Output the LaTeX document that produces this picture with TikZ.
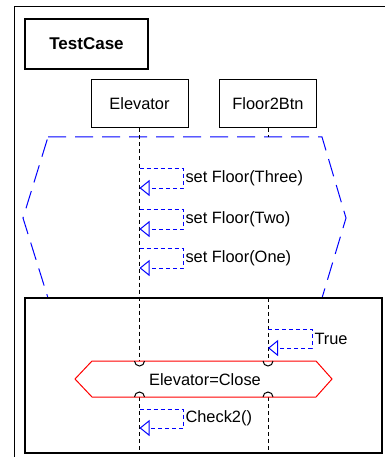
\documentclass[tikz,border=0pt]{standalone}
\usepackage{fontspec}
\setmainfont{Liberation Sans}
\usetikzlibrary{arrows.meta}

\begin{document}
\begin{tikzpicture}[x=1pt,y=-1pt,line width=1pt,
        every node/.style={font=\fontsize{16.4}{19}\selectfont},
        obj/.style={draw,minimum width=97pt,minimum height=48pt},
        life/.style={black,dash pattern=on 4pt off 3pt},
        msg/.style={blue,dash pattern=on 4pt off 3pt,-{Triangle[open,length=10pt,width=16pt]}},
        lbl/.style={anchor=west,inner sep=1pt}]
        \useasboundingbox (0,0) rectangle (385,457);
        \draw (14,457) -- (14,7) -- (385,7);
        \node[draw,line width=2pt,minimum width=123pt,minimum height=50pt,font=\fontsize{17}{20}\selectfont\bfseries] (tc) at (86.5,44) {TestCase};
        \node[obj] (elev) at (139.5,104) {Elevator};
        \node[obj] (btn) at (268,104) {Floor2Btn};
        % loop region
        \draw[blue, dash pattern=on 18pt off 9pt] (48,137) -- (322,137) -- (346,218) -- (322,298) -- (48,298) -- (23,218) -- cycle;
        \coordinate (e1) at (139.5,361);
        \coordinate (e2) at (139.5,397);
        \coordinate (e3) at (139.5,453);
        \coordinate (b0) at (268,137);
        \coordinate (b1) at (268,298);
        \coordinate (b2) at (268,361);
        \coordinate (b3) at (268,397);
        \coordinate (b4) at (268,453);
        \draw[life] (elev.south) -- (e1);
        \draw[life] (e2) -- (e3);
        \draw[life] (btn.south) -- (b0);
        \draw[life] (b1) -- (b2);
        \draw[life] (b3) -- (b4);
        \foreach \y/\t in {168/Three,209/Two,248/One}{
            \draw[msg] (139.5,\y) -- (183,\y) -- (183,\y+20) -- (139.5,\y+20);
            \node[lbl] at (184,\y+10) {set Floor(\t)};
        }
        % alt region
        \draw[line width=2pt] (25,298) rectangle (382,453);
        \draw[msg] (268,329) -- (312,329) -- (312,348) -- (268,348);
        \node[lbl] (tr) at (313,339) {True};
        \draw[red] (75,379) -- (92,361) -- (316,361) -- (332,379) -- (316,397) -- (92,397) -- cycle;
        \node (cond) at (205,380) {Elevator=Close};
        \draw (e1) ++(-5,0) arc (180:0:5);
        \draw (b2) ++(-5,0) arc (180:0:5);
        \draw (e2) ++(-5,0) arc (180:360:5);
        \draw (b3) ++(-5,0) arc (180:360:5);
        \draw[msg] (139.5,409) -- (183,409) -- (183,428) -- (139.5,428);
        \node[lbl] (ck) at (184,418) {Check2()};
    \end{tikzpicture}
\end{document}
